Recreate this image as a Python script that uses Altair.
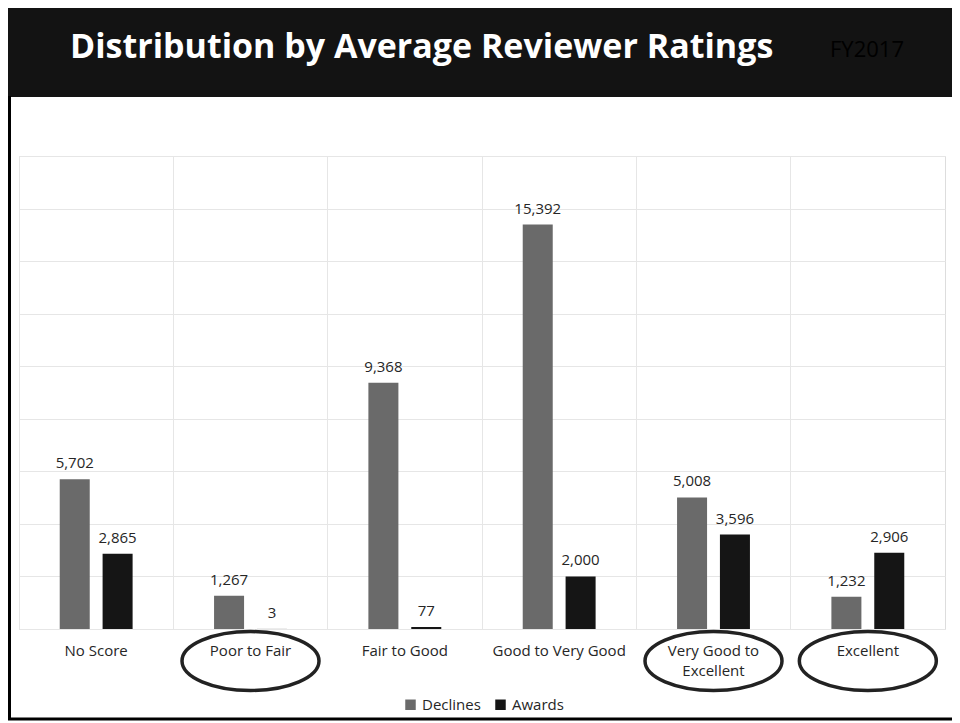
import altair as alt
import pandas as pd

categories = ["No Score", "Poor to Fair", "Fair to Good", "Good to Very Good",
              "Very Good to Excellent", "Excellent"]
series = ["Declines", "Awards"]
declines = [5702, 1267, 9368, 15392, 5008, 1232]
awards = [2865, 3, 77, 2000, 3596, 2906]
circled = ["Poor to Fair", "Very Good to Excellent", "Excellent"]
grid_values = [0, 2000, 4000, 6000, 8000, 10000, 12000, 14000, 16000, 18000]
title_text = "Distribution by Average Reviewer Ratings"
subtitle_text = "FY2017"

rows = []
for c, d, a in zip(categories, declines, awards):
    rows.append({"category": c, "series": "Declines", "value": d})
    rows.append({"category": c, "series": "Awards", "value": a})
df = pd.DataFrame(rows)

FONT = "Open Sans"
W, H = 926, 473

x_enc = alt.X(
    "category:N",
    sort=categories,
    scale=alt.Scale(paddingInner=0, paddingOuter=0),
    axis=alt.Axis(
        title=None, ticks=False, domain=False, grid=True, bandPosition=0,
        gridColor="#e6e6e6", labelAngle=0, labelFont=FONT, labelFontSize=15,
        labelColor="#262626", labelPadding=14, labelBaseline="top",
        labelLineHeight=20,
        labelExpr="datum.value == 'Very Good to Excellent' ? ['Very Good to', 'Excellent'] : datum.value",
    ),
)
y_enc = alt.Y(
    "value:Q",
    scale=alt.Scale(domain=[0, 18000], nice=False),
    axis=alt.Axis(title=None, labels=False, ticks=False, domain=False,
                  values=grid_values, labelOverlap=False,
                  gridColor="#e6e6e6"),
)
xoff = alt.XOffset("series:N", sort=series,
                   scale=alt.Scale(paddingInner=0.3, paddingOuter=0.95))
color_enc = alt.Color(
    "series:N", sort=series,
    scale=alt.Scale(domain=series, range=["#6a6a6a", "#151515"]),
    legend=alt.Legend(
        title=None, orient="none", direction="horizontal",
        legendX=384, legendY=541, symbolType="square", symbolSize=110,
        symbolStrokeWidth=0, labelFont=FONT, labelFontSize=15,
        labelColor="#262626", columnPadding=12, labelOffset=4,
    ),
)

base = alt.Chart(df)
bars = base.mark_bar().encode(x=x_enc, y=y_enc, xOffset=xoff, color=color_enc)
labels = base.mark_text(font=FONT, fontSize=15, color="#262626",
                        baseline="middle", dy=-16).encode(
    x=x_enc,
    xOffset=xoff,
    y=y_enc,
    text=alt.Text("value:Q", format=","),
)

one = pd.DataFrame({"k": [0]})
ell_df = pd.DataFrame({"category": circled})
ellipse = alt.Chart(ell_df).mark_point(
    shape="M -1 0 A 1 0.43 0 1 1 1 0 A 1 0.43 0 1 1 -1 0 Z",
    filled=False, stroke="#222222", strokeWidth=3.5, size=137 * 137, opacity=1,
).encode(
    x=x_enc,
    y=alt.value(505),
)

title_bar = alt.Chart(one).mark_rect(color="#131313").encode(
    x=alt.value(-11), x2=alt.value(940), y=alt.value(-160), y2=alt.value(-59)
)
title = alt.Chart(one).mark_text(
    text=title_text, font=FONT, fontWeight="bold", fontSize=34, color="#ffffff",
    align="left", baseline="alphabetic"
).encode(x=alt.value(51), y=alt.value(-98))
subtitle = alt.Chart(one).mark_text(
    text=subtitle_text, font=FONT, fontSize=22, color="#000000",
    align="left", baseline="alphabetic"
).encode(x=alt.value(811), y=alt.value(-99))
left_border = alt.Chart(one).mark_rule(color="#000000", strokeWidth=3).encode(
    x=alt.value(-9.5), y=alt.value(-60), y2=alt.value(564)
)
bottom_border = alt.Chart(one).mark_rule(color="#000000", strokeWidth=3).encode(
    y=alt.value(563), x=alt.value(-11), x2=alt.value(940)
)

chart = alt.layer(
    bars, labels, ellipse, title_bar, title, subtitle, left_border, bottom_border
).properties(
    width=W, height=H,
    autosize=alt.AutoSizeParams(type="none"),
    padding={"left": 11, "top": 148, "right": 7, "bottom": 94},
).configure_view(stroke="#e6e6e6").configure(background="#ffffff")

chart.save("out.html", embed_options={"renderer": "svg", "actions": False})
